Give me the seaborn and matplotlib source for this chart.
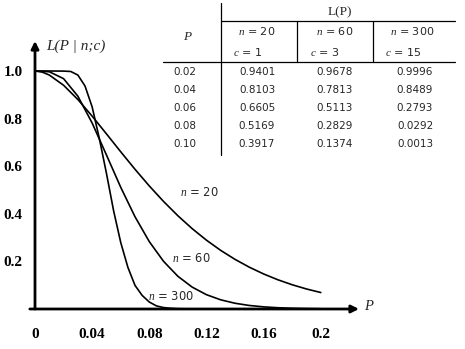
import matplotlib
matplotlib.use("Agg")
import matplotlib.pyplot as plt
import seaborn as sns
import pandas as pd

# ---- data ----
p_20 = [0, 0.005, 0.01, 0.02, 0.03, 0.04, 0.05, 0.06, 0.07, 0.08, 0.09, 0.10,
        0.11, 0.12, 0.13, 0.14, 0.15, 0.16, 0.17, 0.18, 0.19, 0.20]
L_20 = [1.0, 0.9955, 0.9831, 0.9401, 0.8802, 0.8103, 0.7358, 0.6605, 0.5869, 0.5169,
        0.4516, 0.3917, 0.3376, 0.2891, 0.2461, 0.2084, 0.1756, 0.1472, 0.1227,
        0.1018, 0.0841, 0.0692]
p_60 = [0, 0.01, 0.02, 0.03, 0.04, 0.05, 0.06, 0.07, 0.08, 0.09, 0.10,
        0.11, 0.12, 0.13, 0.14, 0.15, 0.16, 0.17, 0.18, 0.19, 0.20]
L_60 = [1.0, 0.9969, 0.9678, 0.8942, 0.7813, 0.6472, 0.5113, 0.3874, 0.2829, 0.2000,
        0.1374, 0.0919, 0.0601, 0.0385, 0.0241, 0.0148, 0.0090, 0.0053, 0.0031,
        0.0018, 0.0010]
p_300 = [0, 0.01, 0.02, 0.025, 0.03, 0.035, 0.04, 0.045, 0.05, 0.055, 0.06, 0.065,
         0.07, 0.075, 0.08, 0.085, 0.09, 0.095, 0.10, 0.11, 0.12, 0.14, 0.16, 0.18, 0.20]
L_300 = [1.0, 1.0, 0.9996, 0.998, 0.983, 0.937, 0.8489, 0.717, 0.570, 0.413, 0.2793,
         0.175, 0.099, 0.057, 0.0292, 0.013, 0.006, 0.003, 0.0013, 0.0002, 0.0, 0.0,
         0.0, 0.0, 0.0]
series_names = ["n = 20", "n = 60", "n = 300"]

x_ticks = [0, 0.04, 0.08, 0.12, 0.16, 0.2]
x_tick_labels = ["0", "0.04", "0.08", "0.12", "0.16", "0.2"]
y_ticks = [0.2, 0.4, 0.6, 0.8, 1.0]
y_tick_labels = ["0.2", "0.4", "0.6", "0.8", "1.0"]

table_p = ["0.02", "0.04", "0.06", "0.08", "0.10"]
table_n20 = ["0.9401", "0.8103", "0.6605", "0.5169", "0.3917"]
table_n60 = ["0.9678", "0.7813", "0.5113", "0.2829", "0.1374"]
table_n300 = ["0.9996", "0.8489", "0.2793", "0.0292", "0.0013"]

# ---- style ----
sns.set_style("white")
plt.rcParams["mathtext.fontset"] = "custom"
plt.rcParams["mathtext.it"] = "Liberation Serif:italic"
plt.rcParams["mathtext.rm"] = "DejaVu Sans"
plt.rcParams["font.family"] = ["DejaVu Sans"]

W, H = 465, 349
fig = plt.figure(figsize=(W / 100, H / 100), dpi=100)

x0, y0 = 35, 309          # pixel of data origin
sx, sy = 1429.0, 238.0    # pixels per unit
x_end, y_end = 359, 41    # arrow tips
ax = fig.add_axes([x0 / W, (H - y0) / H, (x_end - x0) / W, (y0 - y_end) / H])
ax.set_xlim(0, (x_end - x0) / sx)
ax.set_ylim(0, (y0 - y_end) / sy)

df = pd.concat([
    pd.DataFrame({"p": p_20, "L": L_20, "s": series_names[0]}),
    pd.DataFrame({"p": p_60, "L": L_60, "s": series_names[1]}),
    pd.DataFrame({"p": p_300, "L": L_300, "s": series_names[2]}),
])
sns.lineplot(data=df, x="p", y="L", units="s", estimator=None, color="black",
             linewidth=1.2, ax=ax, legend=False, sort=False)

for sp in ax.spines.values():
    sp.set_visible(False)

ax.annotate("", xy=(1, 0), xytext=(-0.016, 0), xycoords="axes fraction",
            arrowprops=dict(arrowstyle="-|>", lw=2, color="black",
                            mutation_scale=11, shrinkA=0, shrinkB=0))
ax.annotate("", xy=(0, 1), xytext=(0, 0), xycoords="axes fraction",
            arrowprops=dict(arrowstyle="-|>", lw=2, color="black",
                            mutation_scale=11, shrinkA=0, shrinkB=0))

ax.set_xticks(x_ticks)
ax.set_xticklabels(x_tick_labels, family="Liberation Serif", weight="bold", fontsize=11)
ax.set_yticks(y_ticks)
ax.set_yticklabels(y_tick_labels, family="Liberation Serif", weight="bold", fontsize=11)
ax.tick_params(axis="x", direction="out", length=4, width=1.5, pad=10, colors="black")
ax.tick_params(axis="y", direction="out", length=4, width=1.5, pad=5, colors="black")
ax.set_xlabel("")
ax.set_ylabel("")
ax.grid(False)


def px(x, y):
    return x / W, 1 - y / H


# axis titles
fig.text(*px(46, 46), "L(P | n;c)", family="Liberation Serif", style="italic",
         fontsize=11, ha="left", va="center")
fig.text(*px(364, 307), "P", family="Liberation Serif", style="italic",
         fontsize=10.5, ha="left", va="center")

# curve labels
fig.text(*px(180, 193), "$n$ = 20", fontsize=8.3, ha="left", va="center")
fig.text(*px(172, 258), "$n$ = 60", fontsize=8.3, ha="left", va="center")
fig.text(*px(148, 297), "$n$ = 300", fontsize=8.3, ha="left", va="center")

# table lines
lines = [
    ((221, 3), (221, 155)),
    ((221, 21), (455, 21)),
    ((163, 62), (455, 62)),
    ((297, 21), (297, 62)),
    ((373, 21), (373, 62)),
]
for (xa, ya), (xb, yb) in lines:
    fig.add_artist(plt.Line2D([xa / W, xb / W], [1 - ya / H, 1 - yb / H],
                              transform=fig.transFigure, color="black", lw=0.9))

fig.text(*px(340, 12), "L(P)", family="Liberation Serif", fontsize=9.5,
         ha="center", va="center")
fig.text(*px(187, 37), "P", family="Liberation Serif", style="italic", fontsize=9.5,
         ha="center", va="center")
for cx, lab in zip([257, 335, 412], ["$n$ = 20", "$n$ = 60", "$n$ = 300"]):
    fig.text(*px(cx, 31), lab, fontsize=8, ha="center", va="center")
for lx, lab in zip([233, 310, 385], ["$c$ = 1", "$c$ = 3", "$c$ = 15"]):
    fig.text(*px(lx, 52), lab, fontsize=8, ha="left", va="center")

row_y = [72, 90, 108, 126, 144]
for i, yy in enumerate(row_y):
    fig.text(*px(185, yy), table_p[i], fontsize=7.5, ha="center", va="center")
    fig.text(*px(257, yy), table_n20[i], fontsize=7.5, ha="center", va="center")
    fig.text(*px(335, yy), table_n60[i], fontsize=7.5, ha="center", va="center")
    fig.text(*px(415, yy), table_n300[i], fontsize=7.5, ha="center", va="center")

fig.savefig("out.png", dpi=100)
